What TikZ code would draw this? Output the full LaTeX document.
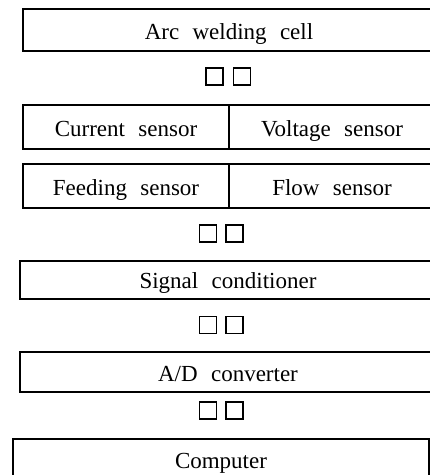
\documentclass[tikz,border=0pt]{standalone}
\usepackage{fontspec}
\setmainfont{Liberation Serif}
\newcommand\lblfnt{\fontsize{23}{26}\selectfont\spaceskip 0.58em plus 0pt minus 0pt\relax}
\begin{document}
\begin{tikzpicture}[x=1pt,y=-1pt,
  blk/.style={draw,line width=1.3pt,inner sep=0pt},
  lbl/.style={font=\lblfnt,anchor=base,inner sep=0pt},
  sq/.style={draw,line width=1.8pt,minimum width=17pt,minimum height=17pt,inner sep=0pt}]
\useasboundingbox (0,0) rectangle (430,475);
\clip (0,0) rectangle (430,475);
% boxes
\draw[blk] (23,9) rectangle (435,51);
\node[lbl] (arc) at (229,39) {Arc welding cell};
\draw[blk] (23,105) rectangle (229,149);
\draw[blk] (229,105) rectangle (435,149);
\node[lbl] (cur) at (126,136) {Current sensor};
\node[lbl] (volt) at (332,136) {Voltage sensor};
\draw[blk] (23,164) rectangle (229,208);
\draw[blk] (229,164) rectangle (435,208);
\node[lbl] (feed) at (126,195) {Feeding sensor};
\node[lbl] (flow) at (332,195) {Flow sensor};
\draw[blk] (20,261) rectangle (436,299);
\node[lbl] (sig) at (228,288) {Signal conditioner};
\draw[blk] (20,352) rectangle (436,392);
\node[lbl] (ad) at (228,381) {A/D converter};
\draw[blk] (13,439) rectangle (429,480);
\node[lbl] (comp) at (221,468) {Computer};
% squares
\node[sq] (s1a) at (214.5,76.5) {};
\node[sq] (s1b) at (242,76.5) {};
\node[sq] (s2a) at (208,233.5) {};
\node[sq] (s2b) at (234.5,233.5) {};
\node[sq] (s3a) at (208,325) {};
\node[sq] (s3b) at (234.5,325) {};
\node[sq] (s4a) at (208,410.5) {};
\node[sq] (s4b) at (234.5,410.5) {};
\end{tikzpicture}
\end{document}
